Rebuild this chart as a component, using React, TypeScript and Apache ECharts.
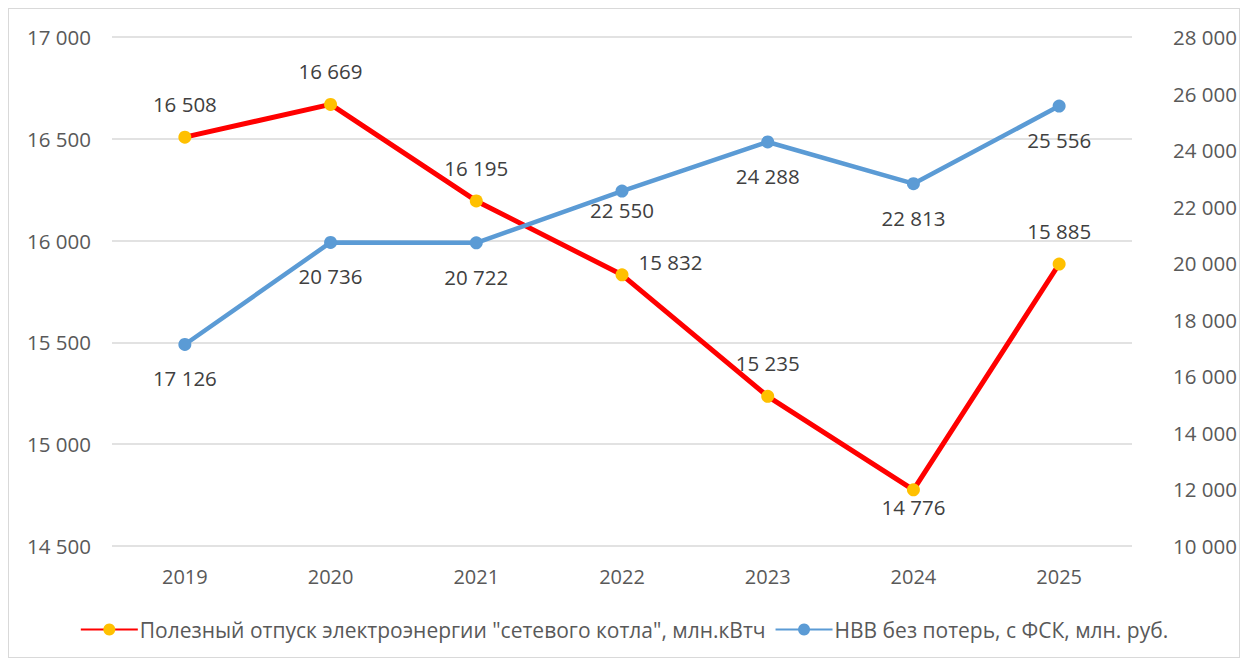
import React, { useEffect, useRef } from "react";
import * as echarts from "echarts";

const categories = ["2019", "2020", "2021", "2022", "2023", "2024", "2025"];
const supplyValues = [16508, 16669, 16195, 15832, 15235, 14776, 15885];
const nvvValues = [17126, 20736, 20722, 22550, 24288, 22813, 25556];
const supplyLabelPos = ["top", "top", "top", "right", "top", "bottom", "top"];
const nvvLabelPos = ["bottom", "bottom", "bottom", "bottom", "bottom", "bottom", "bottom"];
const supplyName = 'Полезный отпуск электроэнергии "сетевого котла", млн.кВтч';
const nvvName = "НВВ без потерь, с ФСК, млн. руб.";

const fmt = (v: number) => {
  const s = String(Math.round(v));
  return s.replace(/\B(?=(\d{3})+(?!\d))/g, " ");
};

const FONT = "'Open Sans', 'Noto Sans', sans-serif";

export default function App() {
  const ref = useRef<HTMLDivElement>(null);
  useEffect(() => {
    if (!ref.current) return;
    const chart = echarts.init(ref.current, null, { renderer: "svg" });
    const supplyOffsets: any[] = [null, null, null, [-6, -13], null, [0, -16], null];
    const nvvOffsets: any[] = [null, null, null, [0, -15], null, null, null];
    chart.setOption({
      animation: false,
      backgroundColor: "#ffffff",
      textStyle: { fontFamily: FONT },
      grid: { left: 103, right: 107, top: 28, bottom: 111, containLabel: false, outerBoundsMode: "none" },
      legend: {
        bottom: 12,
        left: "center",
        itemWidth: 57,
        itemHeight: 15,
        itemGap: 9,
        textStyle: { fontSize: 21, color: "#595959", fontFamily: FONT, padding: [0, 0, 0, -3] },
        data: [supplyName, nvvName],
      },
      xAxis: {
        type: "category",
        data: categories,
        boundaryGap: true,
        axisLine: { show: false },
        axisTick: { show: false },
        axisLabel: { fontSize: 20, color: "#595959", margin: 20 },
      },
      yAxis: [
        {
          type: "value",
          min: 14500,
          max: 17000,
          interval: 500,
          axisLine: { show: false },
          axisTick: { show: false },
          splitLine: { lineStyle: { color: "#d9d9d9", width: 1.5 } },
          axisLabel: { fontSize: 20.5, color: "#595959", formatter: fmt, margin: 21 },
        },
        {
          type: "value",
          min: 10000,
          max: 28000,
          interval: 2000,
          axisLine: { show: false },
          axisTick: { show: false },
          splitLine: { show: false },
          axisLabel: { fontSize: 20.5, color: "#595959", formatter: fmt, margin: 41 },
        },
      ],
      series: [
        {
          name: supplyName,
          type: "line",
          yAxisIndex: 0,
          data: supplyValues.map((v, i) => ({
            value: v,
            label: supplyOffsets[i]
              ? { position: supplyLabelPos[i], offset: supplyOffsets[i] }
              : { position: supplyLabelPos[i] },
          })),
          lineStyle: { color: "#ff0000", width: 5 },
          itemStyle: { color: "#ffc000", borderWidth: 0 },
          color: "#ff0000",
          symbol: "circle",
          symbolSize: 13,
          label: {
            show: true,
            fontSize: 20.5,
            color: "#404040",
            distance: 16,
            formatter: (p: any) => fmt(p.value),
          },
          z: 2,
        },
        {
          name: nvvName,
          type: "line",
          yAxisIndex: 1,
          data: nvvValues.map((v, i) => ({
            value: v,
            label: nvvOffsets[i]
              ? { position: nvvLabelPos[i], offset: nvvOffsets[i] }
              : { position: nvvLabelPos[i] },
          })),
          lineStyle: { color: "#5b9bd5", width: 4.5 },
          itemStyle: { color: "#5b9bd5", borderWidth: 0 },
          color: "#5b9bd5",
          symbol: "circle",
          symbolSize: 13,
          label: {
            show: true,
            fontSize: 20.5,
            color: "#404040",
            distance: 17,
            formatter: (p: any) => fmt(p.value),
          },
          z: 3,
        },
      ],
    });
    return () => chart.dispose();
  }, []);
  return (
    <div
      ref={ref}
      style={{
        width: 1230,
        height: 648,
        border: "1px solid #d9d9d9",
      }}
    />
  );
}
